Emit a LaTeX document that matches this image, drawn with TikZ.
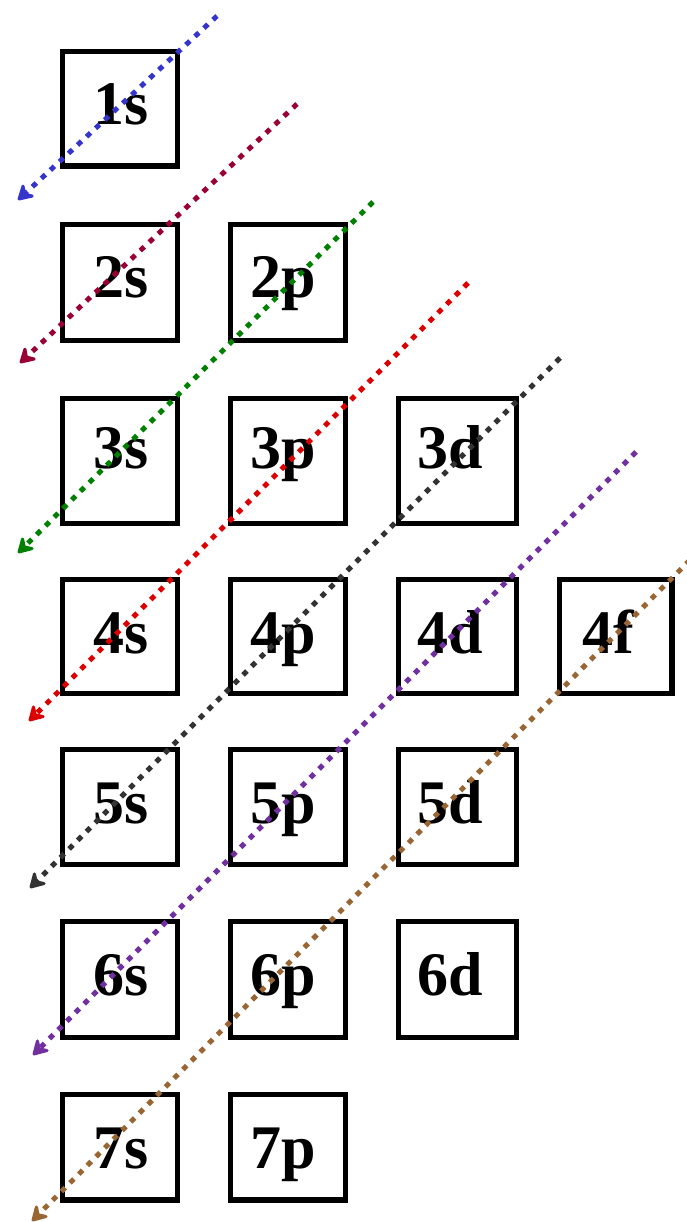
\documentclass[tikz,border=0pt]{standalone}
\usepackage{fontspec}
\setmainfont{Liberation Serif}
\usetikzlibrary{arrows.meta}
\definecolor{cblue}{HTML}{3535CC}
\definecolor{cmaroon}{HTML}{990033}
\definecolor{cgreen}{HTML}{008000}
\definecolor{cred}{HTML}{DD0000}
\definecolor{cblack}{HTML}{333333}
\definecolor{cpurple}{HTML}{7030A0}
\definecolor{cbrown}{HTML}{996633}
\newcommand\orb[8]{%
  \node[orbbox, minimum width={#3-#2}, minimum height={#5-#4}] (#1) at ({(#2+#3)/2},{(#4+#5)/2}) {};
  \node[orblbl] (#1t) at (#7,#8) {#6};}
\begin{document}
\begin{tikzpicture}[x=1pt,y=-1pt,
  orbbox/.style={draw=black, line width=5.5pt, rectangle, inner sep=0pt, fill=none},
  orblbl/.style={anchor=base, inner sep=0pt, font=\fontsize{62}{62}\selectfont\bfseries},
  fillarrow/.style={line width=5pt, dash pattern=on 5.5pt off 6.8pt,
    -{Stealth[length=19pt,width=22pt,inset=7pt,round]}}]
\useasboundingbox (0,0) rectangle (687,1222);
% row 1
\orb{o1s}{62.5}{177.5}{51.5}{166}{1s}{121}{125}
% row 2
\orb{o2s}{62.5}{177.5}{224.5}{340.5}{2s}{121}{298}
\orb{o2p}{230.5}{345.5}{224.5}{340.5}{2p}{283}{298}
% row 3
\orb{o3s}{62.5}{177.5}{398.5}{523.5}{3s}{121}{468}
\orb{o3p}{230.5}{345.5}{398.5}{523.5}{3p}{283}{468}
\orb{o3d}{398.5}{516.5}{398.5}{523.5}{3d}{450.5}{468}
% row 4
\orb{o4s}{62.5}{177.5}{579.5}{693.5}{4s}{121}{653}
\orb{o4p}{230.5}{345.5}{579.5}{693.5}{4p}{283}{653}
\orb{o4d}{398.5}{516.5}{579.5}{693.5}{4d}{450.5}{653}
\orb{o4f}{559.5}{672}{579.5}{693.5}{4f}{608}{653}
% row 5
\orb{o5s}{62.5}{177.5}{749.5}{864.5}{5s}{121}{823}
\orb{o5p}{230.5}{345.5}{749.5}{864.5}{5p}{283}{823}
\orb{o5d}{398.5}{516.5}{749.5}{864.5}{5d}{450.5}{823}
% row 6
\orb{o6s}{62.5}{177.5}{921.5}{1037.5}{6s}{121}{995}
\orb{o6p}{230.5}{345.5}{921.5}{1037.5}{6p}{283}{995}
\orb{o6d}{398.5}{516.5}{921.5}{1037.5}{6d}{450.5}{995}
% row 7
\orb{o7s}{62.5}{177.5}{1094.5}{1200}{7s}{121}{1168}
\orb{o7p}{230.5}{345.5}{1094.5}{1200}{7p}{283}{1168}
% arrow end points
\coordinate (a1) at (217,16);  \coordinate (b1) at (18,200);
\coordinate (a2) at (297,104); \coordinate (b2) at (20,363);
\coordinate (a3) at (373,202); \coordinate (b3) at (18,553);
\coordinate (a4) at (468,283); \coordinate (b4) at (29,721);
\coordinate (a5) at (560,358); \coordinate (b5) at (30,888);
\coordinate (a6) at (636,452); \coordinate (b6) at (33,1055);
\coordinate (a7) at (690,560); \coordinate (b7) at (32,1221);
\draw[fillarrow, cblue] (a1) -- (b1);
\draw[fillarrow, cmaroon] (a2) -- (b2);
\draw[fillarrow, cgreen] (a3) -- (b3);
\draw[fillarrow, cred] (a4) -- (b4);
\draw[fillarrow, cblack] (a5) -- (b5);
\draw[fillarrow, cpurple] (a6) -- (b6);
\draw[fillarrow, cbrown] (a7) -- (b7);
\end{tikzpicture}
\end{document}
